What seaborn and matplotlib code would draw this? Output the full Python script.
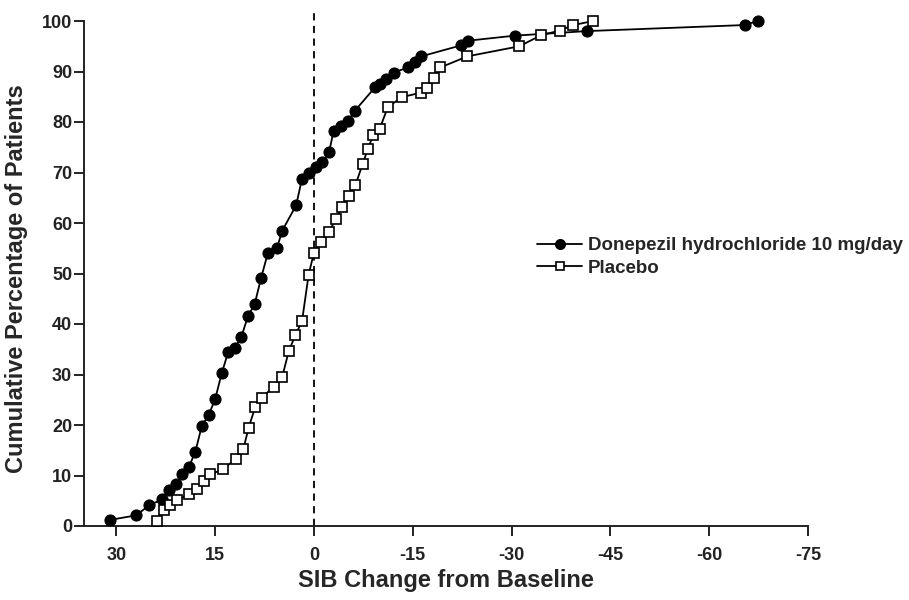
import numpy as np
import pandas as pd
import matplotlib
matplotlib.use("Agg")
import matplotlib.pyplot as plt
import seaborn as sns

# SIB change from baseline (x) vs cumulative % of patients (y)
donepezil_x = [31, 27, 25, 23, 22, 21, 20, 19, 18, 17, 16, 15, 14, 13, 12, 11, 10, 9, 8, 7,
               5.6, 4.8, 2.7, 1.8, 0.8, -0.3, -1.3, -2.3, -3.0, -4.1, -5.1, -6.2, -9.3, -10.1,
               -11.0, -12.1, -14.3, -15.4, -16.3, -22.4, -23.4, -30.5, -41.4, -65.4, -67.4]
donepezil_y = [1.2, 2.1, 4.1, 5.3, 7.1, 8.3, 10.2, 11.6, 14.7, 19.9, 21.9, 25.1, 30.2, 34.5,
               35.3, 37.5, 41.6, 43.9, 49.2, 54.0, 55.1, 58.5, 63.5, 68.8, 70.0, 71.0, 72.1,
               74.0, 78.3, 79.3, 80.1, 82.2, 86.9, 87.5, 88.6, 89.8, 90.8, 91.8, 93.0, 95.2,
               96.1, 97.1, 98.0, 99.2, 100.0]

placebo_x = [23.8, 22.8, 21.8, 20.8, 18.9, 17.7, 16.7, 15.8, 13.8, 11.9, 10.7, 9.9, 8.9, 7.9,
             6.1, 4.8, 3.8, 2.8, 1.8, 0.8, 0.0, -1.1, -2.3, -3.3, -4.3, -5.3, -6.3, -7.4,
             -8.2, -9.0, -10.0, -11.2, -13.3, -16.2, -17.2, -18.2, -19.2, -23.3, -31.2,
             -34.5, -37.3, -39.4, -42.4]
placebo_y = [1.0, 3.2, 4.1, 5.1, 6.3, 7.3, 8.9, 10.2, 11.2, 13.3, 15.3, 19.5, 23.6, 25.4,
             27.6, 29.6, 34.7, 37.8, 40.6, 49.8, 54.1, 56.3, 58.3, 60.7, 63.1, 65.4, 67.5,
             71.7, 74.7, 77.4, 78.7, 82.9, 84.9, 85.8, 86.8, 88.7, 90.8, 93.0, 95.0, 97.2,
             98.1, 99.2, 100.0]

x_ticks = [30, 15, 0, -15, -30, -45, -60, -75]
y_ticks = [0, 10, 20, 30, 40, 50, 60, 70, 80, 90, 100]

sns.set_style("ticks")
plt.rcParams['font.family'] = ['Liberation Sans', 'DejaVu Sans']
plt.rcParams['font.weight'] = 'bold'

fig = plt.figure(figsize=(9.09, 6.0), dpi=100)
ax = fig.add_axes([84 / 909, 74 / 600, 724 / 909, 505 / 600])

don = pd.DataFrame({'x': donepezil_x, 'y': donepezil_y})
plc = pd.DataFrame({'x': placebo_x, 'y': placebo_y})

sns.lineplot(data=don, x='x', y='y', ax=ax, sort=False, color='black', linewidth=1.3,
             marker='o', markersize=8, markerfacecolor='black', markeredgecolor='black',
             label='Donepezil hydrochloride 10 mg/day', clip_on=False, zorder=3)
sns.lineplot(data=plc, x='x', y='y', ax=ax, sort=False, color='black', linewidth=1.3,
             marker='s', markersize=6.5, markerfacecolor='white', markeredgecolor='black',
             markeredgewidth=1.2, label='Placebo', clip_on=False, zorder=3)

# dashed reference line at no change, running a bit above the top of the axis
ax.axvline(0, ymin=0, ymax=1.016, color='black', linestyle=(0, (4, 3)), linewidth=1.3,
           zorder=1, clip_on=False)

ax.set_xlim(34.9, -75)
ax.set_ylim(0, 100)
ax.set_xticks(x_ticks)
ax.set_xticklabels([str(t) for t in x_ticks])
ax.set_yticks(y_ticks)

sns.despine(ax=ax)
for sp in ['left', 'bottom']:
    ax.spines[sp].set_linewidth(1.4)
    ax.spines[sp].set_color('#222222')
ax.tick_params(direction='out', length=7, width=1.4, labelsize=13, colors='#222222')
ax.tick_params(axis='x', pad=8)
ax.tick_params(axis='y', pad=1.5)
for lab in ax.get_xticklabels() + ax.get_yticklabels():
    lab.set_fontweight('bold')

ax.set_xlabel('SIB Change from Baseline', fontsize=17, fontweight='bold')
ax.set_ylabel('Cumulative Percentage of Patients', fontsize=17, fontweight='bold')
ax.xaxis.set_label_coords(0.5, -0.085)
ax.yaxis.set_label_coords(-0.078, 0.49)

leg = ax.legend(loc='upper left', bbox_to_anchor=(0.626, 0.572), frameon=False,
                prop={'weight': 'bold', 'size': 13.5}, handlelength=2.4,
                handletextpad=0.3, labelspacing=0.3, borderpad=0, borderaxespad=0,
                markerscale=0.9)

fig.savefig('out.png', dpi=100)
